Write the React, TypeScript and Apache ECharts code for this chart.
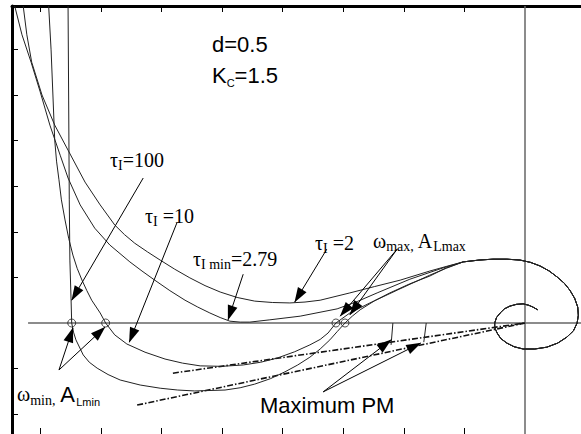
import { useEffect, useRef } from 'react';
import * as echarts from 'echarts';

// Axis extents (data units: one tick = 1 unit)
const X_MIN = -8.465;
const X_MAX = 0.924;
const Y_MIN = -2.434;
const Y_MAX = 6.952;
const xTickValues = [-8, -7, -6, -5, -4, -3, -2, -1];
const yTickValues = [-2, -1, 1, 2, 3, 4, 5, 6];

// Common high-frequency part (loop + spiral to origin)
const loopTail = [
  [-1.02, 1.34], [-0.76, 1.38], [-0.53, 1.40], [-0.30, 1.40], [-0.08, 1.38], [0.09, 1.33],
  [0.25, 1.25], [0.40, 1.14], [0.53, 1.01], [0.65, 0.87], [0.74, 0.72], [0.82, 0.54],
  [0.87, 0.35], [0.88, 0.17], [0.86, 0], [0.80, -0.17], [0.69, -0.31], [0.54, -0.44],
  [0.36, -0.53], [0.16, -0.57], [-0.03, -0.57], [-0.18, -0.52], [-0.30, -0.44], [-0.40, -0.34],
  [-0.46, -0.22], [-0.50, -0.10], [-0.50, 0], [-0.47, 0.12], [-0.41, 0.22], [-0.34, 0.31],
  [-0.25, 0.37], [-0.14, 0.41], [-0.03, 0.42], [0.06, 0.39], [0.13, 0.35], [0.21, 0.29],
];

const tau100 = [
  [-7.54, 6.95], [-7.53, 4.89], [-7.52, 2.70], [-7.51, 1.38], [-7.49, 0.50],
  [-7.48, 0], [-7.45, -0.20], [-7.41, -0.37], [-7.29, -0.70], [-7.19, -0.86], [-7.06, -0.99],
  [-6.88, -1.13], [-6.68, -1.25], [-6.35, -1.36], [-6.02, -1.43], [-5.73, -1.47],
  [-5.45, -1.49], [-4.95, -1.47], [-4.70, -1.42], [-4.46, -1.34], [-4.20, -1.22], [-3.96, -1.07],
  [-3.75, -0.92], [-3.55, -0.75], [-3.38, -0.57], [-3.22, -0.37], [-3.10, -0.19],
  [-2.97, 0], [-2.85, 0.15], [-2.72, 0.29], [-2.48, 0.49], [-2.23, 0.66], [-1.90, 0.86], [-1.57, 1.03],
  [-1.30, 1.21],
];

const tau10 = [
  [-7.86, 6.95], [-7.82, 5.99], [-7.79, 5.00], [-7.76, 4.01], [-7.73, 3.55], [-7.69, 3.14],
  [-7.65, 2.70], [-7.59, 2.26], [-7.53, 1.86], [-7.46, 1.49], [-7.39, 1.20], [-7.31, 0.94],
  [-7.23, 0.71], [-7.15, 0.50], [-7.01, 0.22], [-6.92, 0],
  [-6.77, -0.26], [-6.57, -0.46], [-6.27, -0.64], [-5.94, -0.79], [-5.65, -0.88], [-5.36, -0.94],
  [-5.00, -0.95], [-4.65, -0.92], [-4.36, -0.86], [-4.09, -0.77], [-3.80, -0.63],
  [-3.55, -0.48], [-3.38, -0.36], [-3.25, -0.22], [-3.12, 0], [-2.89, 0.22], [-2.56, 0.44],
  [-2.11, 0.72], [-1.57, 1.05], [-1.30, 1.20],
];

const tau279 = [
  [-8.42, 6.95], [-8.30, 6.32], [-8.15, 5.72], [-8.00, 5.07], [-7.84, 4.34],
  [-7.67, 3.68], [-7.54, 3.18], [-7.34, 2.59], [-7.10, 2.08], [-6.85, 1.71], [-6.52, 1.34],
  [-6.32, 1.14], [-6.11, 0.94], [-5.86, 0.71], [-5.61, 0.50], [-5.40, 0.35], [-5.20, 0.22],
  [-5.03, 0.12], [-4.87, 0.04], [-4.70, 0.02], [-4.54, 0.02], [-4.21, 0.07],
  [-3.71, 0.15], [-3.10, 0.31], [-2.77, 0.47], [-2.44, 0.66], [-1.90, 0.96], [-1.35, 1.21],
];

const tau2 = [
  [-8.28, 6.95], [-8.22, 6.32], [-8.14, 5.72], [-7.97, 5.00], [-7.76, 4.34],
  [-7.54, 3.79], [-7.26, 3.09], [-7.01, 2.59], [-6.77, 2.15], [-6.61, 1.94], [-6.44, 1.75],
  [-6.23, 1.56], [-6.02, 1.38], [-5.78, 1.18], [-5.53, 0.99], [-5.28, 0.82], [-5.03, 0.68],
  [-4.75, 0.56], [-4.46, 0.48], [-4.17, 0.45], [-3.88, 0.44], [-3.63, 0.46], [-3.38, 0.50],
  [-2.89, 0.66], [-2.48, 0.80], [-2.06, 0.94], [-1.57, 1.14], [-1.30, 1.24],
];

// Marked frequencies (omega_min / omega_max points)
const omegaPoints = [[-7.48, 0], [-6.92, 0], [-3.12, 0], [-2.97, 0]];

// Tangent lines from origin (maximum phase margin)
const tangentA = [[-5.81, -1.10], [0, 0]];
const tangentB = [[-6.40, -1.80], [0, 0]];
const pmMarkA = [[-2.18, 0], [-2.21, -0.48]];
const pmMarkB = [[-1.63, 0], [-1.67, -0.42]];

// Reference axes
const realAxis = [[-8.2, 0], [X_MAX, 0]];
const imagAxis = [[0, Y_MIN], [0, Y_MAX]];

// Annotation arrows: [tail, tip]
const arrows = [
  [[-6.30, 3.18], [-7.48, 0.50]],
  [[-5.74, 2.21], [-6.53, -0.42]],
  [[-4.65, 1.07], [-4.90, 0.07]],
  [[-3.27, 1.62], [-3.80, 0.46]],
  [[-2.11, 1.62], [-3.05, 0.15]],
  [[-2.11, 1.62], [-2.89, 0.18]],
  [[-7.69, -1.03], [-7.46, -0.11]],
  [[-7.69, -1.03], [-6.93, -0.09]],
  [[-3.33, -1.51], [-2.21, -0.37]],
  [[-3.33, -1.51], [-1.72, -0.44]],
];

const SERIF = 'Liberation Serif';
const SANS = 'Liberation Sans';

const rich = {
  m: { fontFamily: SERIF, fontSize: 20, lineHeight: 24, color: '#000' },
  s: { fontFamily: SERIF, fontSize: 14, lineHeight: 13, verticalAlign: 'bottom', color: '#000' },
  M: { fontFamily: SANS, fontSize: 22, lineHeight: 26, color: '#000' },
  S: { fontFamily: SANS, fontSize: 11, lineHeight: 11, verticalAlign: 'bottom', color: '#000' },
};

const labels = [
  { x: 110, y: 148, text: '{m|τ}{s|I}{m|=100}' },
  { x: 145, y: 204, text: '{m|τ}{s|I}{m| =10}' },
  { x: 193, y: 247, text: '{m|τ}{s|I min}{m|=2.79}' },
  { x: 315, y: 231, text: '{m|τ}{s|I}{m| =2}' },
  { x: 373, y: 229, text: '{m|ω}{s|max,}{m| A}{s|Lmax}' },
  { x: 17, y: 381, text: '{m|ω}{s|min,}{M| A}{S|Lmin}' },
  { x: 260, y: 392, text: '{M|Maximum PM}' },
  { x: 212, y: 31, text: '{M|d=0.5}' },
  { x: 212, y: 62, text: '{M|K}{S|C}{M|=1.5}' },
];

// Each Nyquist curve is drawn as one polyline whose vertices are mapped
// through the cartesian axes (api.coord).
function curve(name: string, pts: number[][]) {
  const all = pts.concat(loopTail);
  return {
    name,
    type: 'custom',
    coordinateSystem: 'cartesian2d',
    clip: false,
    silent: true,
    z: 3,
    data: [all[0]],
    encode: { x: 0, y: 1 },
    renderItem: (_params: any, api: any) => ({
      type: 'polyline',
      shape: { points: all.map((p) => api.coord(p)) },
      style: { stroke: '#222', lineWidth: 1, fill: 'none' },
    }),
  };
}

function plain(name: string, pts: number[][], lineStyle: any, z = 2) {
  return { name, type: 'line', data: pts, showSymbol: false, lineStyle, z };
}

export default function App() {
  const ref = useRef<HTMLDivElement>(null);
  useEffect(() => {
    const chart = echarts.init(ref.current!, null, { renderer: 'svg' });
    const hiddenLabel = { show: false };
    const option: any = {
      animation: false,
      backgroundColor: '#fff',
      grid: { left: 12, right: 0, top: 6, bottom: 0, outerBoundsMode: 'none' },
      xAxis: [
        {
          type: 'value', position: 'bottom', min: X_MIN, max: X_MAX,
          axisLine: { show: false, onZero: false },
          axisTick: { show: true, inside: true, length: 6, customValues: xTickValues, lineStyle: { color: '#000', width: 1 } },
          axisLabel: hiddenLabel, splitLine: { show: false },
        },
        {
          type: 'value', position: 'top', min: X_MIN, max: X_MAX,
          axisLine: { show: true, onZero: false, lineStyle: { color: '#000', width: 3 } },
          axisTick: { show: true, inside: true, length: 6, customValues: xTickValues, lineStyle: { color: '#000', width: 1 } },
          axisLabel: hiddenLabel, splitLine: { show: false },
        },
      ],
      yAxis: {
        type: 'value', position: 'left', min: Y_MIN, max: Y_MAX,
        axisLine: { show: true, onZero: false, lineStyle: { color: '#000', width: 3 } },
        axisTick: { show: true, inside: true, length: 6, customValues: yTickValues, lineStyle: { color: '#000', width: 1 } },
        axisLabel: hiddenLabel, splitLine: { show: false },
      },
      series: [
        {
          ...plain('real axis', realAxis, { color: '#666', width: 1.5 }, 1),
          markLine: {
            silent: true,
            animation: false,
            symbol: ['none', 'triangle'],
            symbolSize: 13,
            label: { show: false },
            lineStyle: { color: '#000', width: 1, type: 'solid' },
            itemStyle: { color: '#000' },
            data: arrows.map(([t, h]) => [
              { coord: t },
              { coord: h, symbolSize: [10, 15], symbolOffset: [0, 7] },
            ]),
          },
        },
        plain('imag axis', imagAxis, { color: '#666', width: 1.5 }, 1),
        curve('τI=100', tau100),
        curve('τI=10', tau10),
        curve('τI=2.79', tau279),
        curve('τI=2', tau2),
        plain('tangent A', tangentA, { color: '#111', width: 1.6, type: [6, 2, 1.5, 2] }),
        plain('tangent B', tangentB, { color: '#111', width: 1.6, type: [6, 2, 1.5, 2] }),
        plain('pm A', pmMarkA, { color: '#222', width: 1 }),
        plain('pm B', pmMarkB, { color: '#222', width: 1 }),
        {
          name: 'omega', type: 'scatter', data: omegaPoints, symbol: 'circle', symbolSize: 8, z: 5,
          itemStyle: { color: 'rgba(255,255,255,0)', borderColor: '#222', borderWidth: 1 },
        },
      ],
      graphic: labels.map((l) => ({
        type: 'text', x: l.x, y: l.y, z: 10, silent: true,
        style: { text: l.text, rich, fill: '#000' },
      })),
    };
    chart.setOption(option);
    return () => chart.dispose();
  }, []);
  return (
    <div
      ref={ref}
      style={{ position: 'fixed', left: 0, top: 0, width: 581, height: 434, background: '#fff' }}
    />
  );
}
